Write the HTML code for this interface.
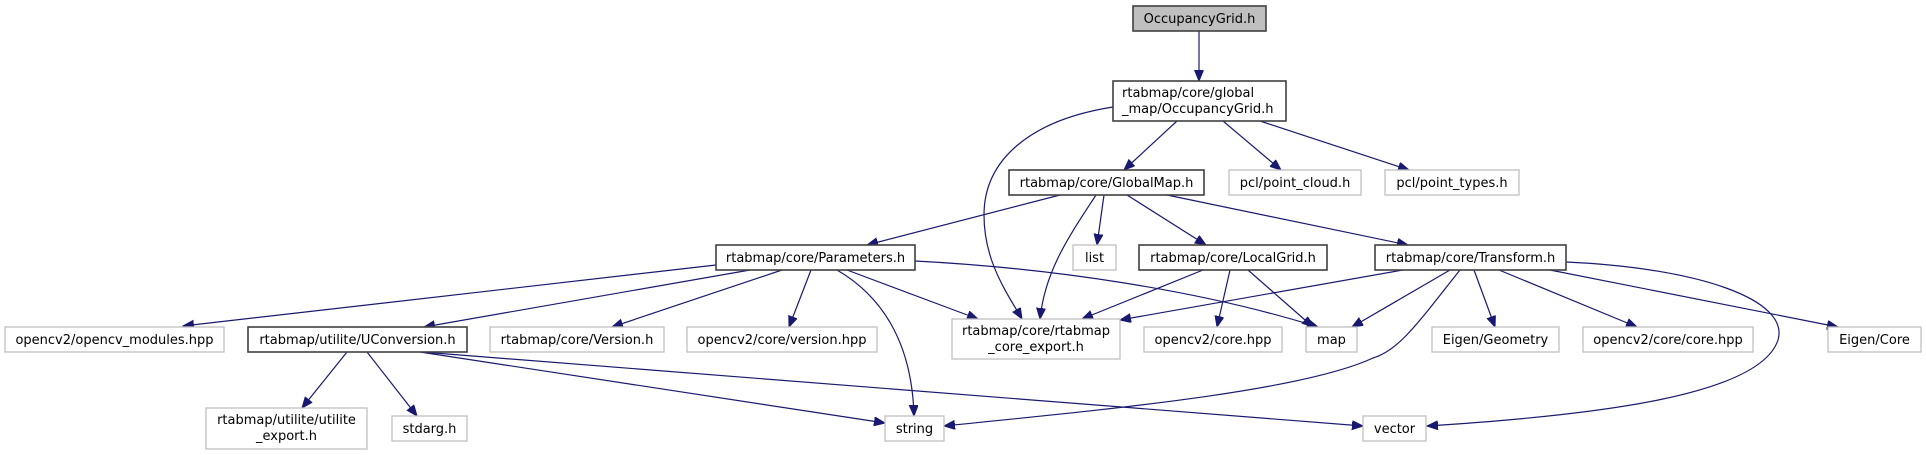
<!DOCTYPE html>
<html><head><meta charset="utf-8"><style>
html,body{margin:0;padding:0;background:#fff;}
svg{display:block;}
text{font-family:"DejaVu Sans","Liberation Sans",sans-serif;font-size:13px;fill:#000;}
.g{fill:#fff;stroke:#bfbfbf;stroke-width:1.3;}
.b{fill:#fff;stroke:#404040;stroke-width:1.6;}
.e{fill:none;stroke:#191970;stroke-width:1.2;marker-end:url(#a);}
</style></head><body>
<svg width="1926" height="455" viewBox="0 0 1926 455" xmlns="http://www.w3.org/2000/svg">
<defs><marker id="a" markerUnits="userSpaceOnUse" markerWidth="12" markerHeight="10" refX="11" refY="4.5" orient="auto"><path d="M0,0 L11,4.5 L0,9 z" fill="#191970" stroke="#191970"/></marker></defs>
<!-- edges -->
<path class="e" d="M1199,31 L1199,81"/>
<path class="e" d="M1113,107 C1030,120 984,160 984,215 C984,260 1005,290 1022,319"/>
<path class="e" d="M1177,121 L1124,170"/>
<path class="e" d="M1223,121 L1281,170"/>
<path class="e" d="M1260,121 L1409,170"/>
<path class="e" d="M1060,195 L867,245"/>
<path class="e" d="M1096,195 C1070,235 1045,270 1040,319"/>
<path class="e" d="M1104,195 L1097,245"/>
<path class="e" d="M1127,195 L1206,245"/>
<path class="e" d="M1167,195 L1408,245"/>
<path class="e" d="M716,265 L183,326"/>
<path class="e" d="M750,270 L424,327"/>
<path class="e" d="M782,270 L612,327"/>
<path class="e" d="M811,270 L789,327"/>
<path class="e" d="M847,270 L978,319"/>
<path class="e" d="M837,270 C880,295 912,340 914,416"/>
<path class="e" d="M915,261 C1050,268 1200,290 1318,327"/>
<path class="e" d="M347,352 L302,408"/>
<path class="e" d="M367,352 L417,416"/>
<path class="e" d="M420,352 L885,423"/>
<path class="e" d="M422,352 L1363,426"/>
<path class="e" d="M1203,270 L1082,319"/>
<path class="e" d="M1230,270 L1217,327"/>
<path class="e" d="M1248,270 L1313,327"/>
<path class="e" d="M1403,270 L1120,320"/>
<path class="e" d="M1450,270 L1352,327"/>
<path class="e" d="M1460,270 C1420,320 1400,350 1373,358 C1300,392 1100,410 944,426"/>
<path class="e" d="M1474,270 L1495,327"/>
<path class="e" d="M1499,270 L1637,327"/>
<path class="e" d="M1550,270 L1838,327"/>
<path class="e" d="M1566,262 C1700,268 1790,300 1778,340 C1760,395 1600,415 1427,426"/>
<!-- nodes -->
<rect x="1133" y="6" width="133" height="25" fill="#bfbfbf" stroke="#404040" stroke-width="1.6"/>
<text x="1199.5" y="23" text-anchor="middle">OccupancyGrid.h</text>
<rect class="b" x="1113" y="81" width="173" height="40"/>
<text x="1122" y="97">rtabmap/core/global</text><text x="1122" y="113">_map/OccupancyGrid.h</text>
<rect class="b" x="1009" y="170" width="195" height="25"/><text x="1106.5" y="187" text-anchor="middle">rtabmap/core/GlobalMap.h</text>
<rect class="g" x="1229" y="170" width="132" height="25"/><text x="1295" y="187" text-anchor="middle">pcl/point_cloud.h</text>
<rect class="g" x="1385" y="170" width="134" height="25"/><text x="1452" y="187" text-anchor="middle">pcl/point_types.h</text>
<rect class="b" x="716" y="245" width="199" height="25"/><text x="815.5" y="262" text-anchor="middle">rtabmap/core/Parameters.h</text>
<rect class="g" x="1073" y="245" width="43" height="25"/><text x="1094.5" y="262" text-anchor="middle">list</text>
<rect class="b" x="1139" y="245" width="188" height="25"/><text x="1233" y="262" text-anchor="middle">rtabmap/core/LocalGrid.h</text>
<rect class="b" x="1375" y="245" width="191" height="25"/><text x="1470.5" y="262" text-anchor="middle">rtabmap/core/Transform.h</text>
<rect class="g" x="5" y="327" width="219" height="25"/><text x="114.5" y="344" text-anchor="middle">opencv2/opencv_modules.hpp</text>
<rect class="b" x="248" y="327" width="219" height="25"/><text x="357.5" y="344" text-anchor="middle">rtabmap/utilite/UConversion.h</text>
<rect class="g" x="490" y="327" width="174" height="25"/><text x="577" y="344" text-anchor="middle">rtabmap/core/Version.h</text>
<rect class="g" x="687" y="327" width="190" height="25"/><text x="782" y="344" text-anchor="middle">opencv2/core/version.hpp</text>
<rect class="g" x="952" y="319" width="168" height="40"/><text x="1036" y="335" text-anchor="middle">rtabmap/core/rtabmap</text><text x="1036" y="351" text-anchor="middle">_core_export.h</text>
<rect class="g" x="1144" y="327" width="138" height="25"/><text x="1213" y="344" text-anchor="middle">opencv2/core.hpp</text>
<rect class="g" x="1306" y="327" width="51" height="25"/><text x="1331.5" y="344" text-anchor="middle">map</text>
<rect class="g" x="1432" y="327" width="127" height="25"/><text x="1495.5" y="344" text-anchor="middle">Eigen/Geometry</text>
<rect class="g" x="1583" y="327" width="170" height="25"/><text x="1668" y="344" text-anchor="middle">opencv2/core/core.hpp</text>
<rect class="g" x="1828" y="327" width="93" height="25"/><text x="1874.5" y="344" text-anchor="middle">Eigen/Core</text>
<rect class="g" x="206" y="408" width="161" height="41"/><text x="286.5" y="424" text-anchor="middle">rtabmap/utilite/utilite</text><text x="286.5" y="440" text-anchor="middle">_export.h</text>
<rect class="g" x="392" y="416" width="75" height="25"/><text x="429.5" y="433" text-anchor="middle">stdarg.h</text>
<rect class="g" x="885" y="416" width="59" height="25"/><text x="914.5" y="433" text-anchor="middle">string</text>
<rect class="g" x="1363" y="416" width="63" height="25"/><text x="1394.5" y="433" text-anchor="middle">vector</text>
</svg>
</body></html>
